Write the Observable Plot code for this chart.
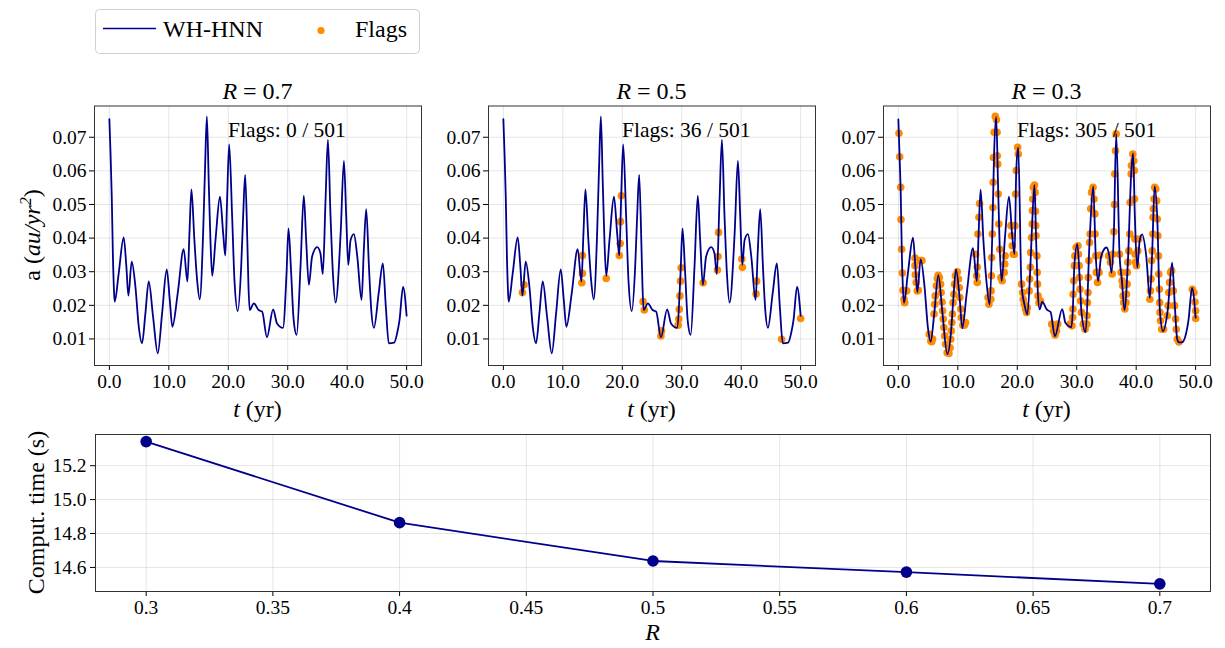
<!DOCTYPE html>
<html><head><meta charset="utf-8">
<script src="https://cdn.jsdelivr.net/npm/d3@7"></script>
<script src="https://cdn.jsdelivr.net/npm/@observablehq/plot@0.6"></script>
<style>
body{margin:0;background:#fff;}
#fig{position:relative;width:1225px;height:648px;overflow:hidden;background:#fff;}
#fig > svg, #fig > div{position:absolute;}
#fig svg text{font-family:'Liberation Serif','DejaVu Serif',serif !important;}
</style></head><body><div id="fig"></div>
<script>
// ---- data ----
// WH-HNN trajectory (panels R = 0.7 and R = 0.5)
const tA = [0,0.2,0.4,0.6,0.8,0.9,1.57,2.41,2.86,3.2,3.76,4.38,4.94,5.5,6.06,6.62,7.35,8.14,8.87,9.65,10.16,10.6,11.5,12.5,13.13,13.47,13.8,14.3,14.76,15.2,15.77,16.1,16.4,16.72,17.0,17.3,17.85,18.6,19.14,19.5,19.8,20.15,20.65,21.04,21.6,22.17,22.5,22.84,23.2,23.4,23.6,24.3,25.1,25.7,26.5,27.55,28.2,29.2,29.8,30.13,30.58,31.0,31.5,32.15,32.7,33.1,33.56,34.1,34.96,35.5,35.9,36.36,36.76,37.2,37.6,38.05,38.9,39.45,39.84,40.18,40.57,41.13,41.7,42.42,42.8,43.2,43.66,44.05,44.5,45.3,46.0,46.5,47.0,47.9,48.4,48.8,49.4,50.0];
const aA = [0.0754,0.0650,0.0525,0.0345,0.0235,0.0211,0.0295,0.0402,0.0315,0.0229,0.0330,0.0256,0.0137,0.0087,0.0176,0.0271,0.0166,0.0057,0.0176,0.0307,0.0216,0.0136,0.0236,0.0367,0.0271,0.0414,0.0545,0.0394,0.0275,0.0218,0.0414,0.0613,0.0762,0.0563,0.0394,0.0288,0.0394,0.0523,0.0414,0.0348,0.0513,0.0679,0.0464,0.0275,0.0183,0.0315,0.0464,0.0588,0.0394,0.0256,0.0186,0.0206,0.0186,0.0181,0.0105,0.0188,0.0146,0.0133,0.0295,0.0429,0.0295,0.0156,0.0112,0.0315,0.0526,0.0394,0.0261,0.0345,0.0373,0.0355,0.0293,0.0513,0.0692,0.0464,0.0295,0.0208,0.0414,0.0630,0.0464,0.0320,0.0394,0.0412,0.0345,0.0216,0.0365,0.0486,0.0315,0.0186,0.0133,0.0236,0.0325,0.0196,0.0087,0.0089,0.0117,0.0156,0.0255,0.0169];
// WH-HNN trajectory (panel R = 0.3)
const tC = [0,0.2,0.4,0.6,0.8,0.95,1.6,2.46,2.86,3.19,3.75,4.4,4.95,5.43,6.06,6.72,7.4,8.23,8.9,9.2,9.7,10.3,10.75,11.5,12.55,13.2,13.5,13.83,14.3,14.8,15.35,15.8,16.1,16.46,16.75,17.05,17.37,17.9,18.6,19.15,19.55,19.83,20.16,20.7,21.2,21.7,22.2,22.5,22.9,23.15,23.4,23.75,24.2,25.0,25.6,26.33,27.56,28.1,29.1,29.35,29.6,30.1,30.5,30.8,31.5,32.15,32.77,33.2,33.6,34.1,35.0,35.5,35.85,36.25,36.64,37.2,37.6,38.03,38.6,39.2,39.49,39.75,40.17,40.6,41.0,41.7,42.3,42.7,43.1,43.55,44.0,44.5,45.3,46.05,46.5,46.9,47.2,47.7,48.4,48.8,49.4,50.0];
const aC = [0.0753,0.0645,0.0530,0.0340,0.0240,0.0208,0.0295,0.0401,0.0315,0.0239,0.0337,0.0256,0.0137,0.0092,0.0180,0.0290,0.0180,0.0055,0.0130,0.0208,0.0307,0.0223,0.0132,0.0236,0.0370,0.0272,0.0414,0.0544,0.0394,0.0275,0.0202,0.0412,0.0650,0.0760,0.0570,0.0370,0.0272,0.0394,0.0523,0.0407,0.0352,0.0601,0.0670,0.0263,0.0203,0.0173,0.0313,0.0442,0.0558,0.0407,0.0263,0.0188,0.0210,0.0187,0.0180,0.0108,0.0189,0.0148,0.0135,0.0190,0.0318,0.0382,0.0280,0.0179,0.0120,0.0387,0.0554,0.0347,0.0272,0.0345,0.0372,0.0345,0.0297,0.0419,0.0710,0.0352,0.0273,0.0186,0.0328,0.0605,0.0652,0.0480,0.0312,0.0394,0.0411,0.0345,0.0222,0.0362,0.0554,0.0457,0.0180,0.0123,0.0185,0.0327,0.0199,0.0099,0.0090,0.0090,0.0117,0.0156,0.0252,0.0163];
// flagged steps, R = 0.5
const flagT5 = [3.2,3.48,13.2,13.3,13.3,17.3,19.5,19.65,19.7,19.85,23.5,23.7,26.5,26.6,29.4,29.5,29.6,29.7,29.8,29.9,33.6,36.0,36.1,36.2,40.1,40.2,42.5,42.6,46.8,50.0];
const flagA5 = [0.0238,0.0261,0.0267,0.0295,0.0348,0.0280,0.0348,0.0384,0.0449,0.0526,0.0211,0.0186,0.0109,0.0124,0.0141,0.0159,0.0188,0.0228,0.0272,0.0312,0.0267,0.0305,0.0345,0.0417,0.0338,0.0313,0.0234,0.0272,0.0099,0.0161];
// flagged steps, R = 0.3
const flagT3 = [0.1,0.22,0.39,0.44,0.55,0.67,0.78,0.95,1.06,1.39,
 2.8,2.8,2.85,3.0,3.19,3.36,3.64,3.97,
 5.2,5.45,5.6,5.75,6.0,6.1,6.2,6.4,6.55,6.7,6.9,7.1,7.2,7.35,7.45,7.55,7.65,7.8,7.95,8.2,8.5,8.7,8.8,8.9,9.0,9.1,9.2,9.35,9.45,9.6,9.9,10.1,10.25,10.35,10.5,10.6,10.85,11.1,11.3,
 13.0,13.16,13.27,13.27,13.38,13.55,13.66,
 15.07,15.23,15.55,15.6,15.65,15.7,15.8,15.9,15.95,16.0,16.1,16.3,16.5,16.6,16.63,16.7,16.8,16.9,17.05,17.25,17.45,17.8,17.9,17.95,
 18.93,19.04,19.16,19.33,19.5,19.6,19.72,19.83,20.06,20.17,
 20.73,20.9,21.0,21.18,21.4,21.57,21.69,
 22.0,22.1,22.2,22.25,22.4,22.5,22.55,22.6,22.7,22.9,23.0,23.05,23.1,23.15,23.3,23.35,23.4,23.5,23.65,23.9,
 25.8,26.1,26.35,26.6,26.8,
 28.9,29.2,29.3,29.35,29.4,29.5,29.6,29.7,29.9,30.2,30.3,30.4,30.45,30.55,30.65,30.8,31.1,31.4,31.7,31.75,31.8,31.9,31.95,32.05,32.15,32.25,32.35,32.5,32.75,32.9,33.05,33.1,33.2,33.3,33.5,33.75,33.85,
 35.39,35.67,35.96,36.07,36.24,36.35,36.4,36.52,36.63,
 37.19,37.47,37.64,37.75,37.8,37.9,38.09,38.3,38.37,38.48,38.5,38.6,38.76,38.93,38.98,39.16,39.2,39.44,39.6,39.68,39.72,39.78,39.82,39.89,40.06,40.28,40.45,
 42.3,42.4,42.5,42.6,42.7,42.8,42.85,42.9,43.0,43.1,43.3,43.45,43.55,43.65,43.75,43.8,43.9,43.95,44.0,44.1,44.3,44.6,
 45.22,45.39,45.5,45.62,45.79,45.96,46.24,46.46,46.63,46.74,46.91,47.19,
 49.44,49.72,49.89,50.0,50.0];
const flagA3 = [0.0712,0.0642,0.0551,0.0455,0.0367,0.0296,0.0245,0.0218,0.0208,0.0243,
 0.0341,0.0318,0.0291,0.0268,0.0243,0.0245,0.0333,0.0333,
 0.0114,0.0094,0.0092,0.0100,0.0174,0.0203,0.0228,0.0258,0.0280,0.0289,0.0283,0.0263,0.0238,0.0210,0.0184,0.0159,0.0134,0.0109,0.0084,0.0059,0.0057,0.0074,0.0099,0.0124,0.0149,0.0174,0.0208,0.0233,0.0263,0.0288,0.0300,0.0278,0.0253,0.0223,0.0189,0.0164,0.0141,0.0141,0.0149,
 0.0352,0.0288,0.0313,0.0268,0.0412,0.0462,0.0503,
 0.0223,0.0203,0.0218,0.0243,0.0288,0.0342,0.0412,0.0491,0.0566,0.0640,0.0715,0.0762,0.0752,0.0715,0.0645,0.0620,0.0531,0.0442,0.0367,0.0283,0.0273,0.0298,0.0323,0.0347,
 0.0437,0.0407,0.0377,0.0352,0.0352,0.0437,0.0531,0.0601,0.0670,0.0650,
 0.0263,0.0238,0.0218,0.0203,0.0189,0.0179,0.0193,
 0.0243,0.0278,0.0313,0.0357,0.0402,0.0442,0.0482,0.0516,0.0551,0.0558,0.0536,0.0480,0.0437,0.0407,0.0347,0.0298,0.0263,0.0228,0.0208,0.0213,
 0.0144,0.0124,0.0112,0.0124,0.0144,
 0.0144,0.0139,0.0164,0.0189,0.0233,0.0273,0.0318,0.0347,0.0372,0.0377,0.0352,0.0318,0.0283,0.0248,0.0213,0.0179,0.0144,0.0129,0.0144,0.0169,0.0208,0.0238,0.0283,0.0333,0.0387,0.0412,0.0487,0.0536,0.0551,0.0516,0.0472,0.0412,0.0347,0.0298,0.0268,0.0298,0.0349,
 0.0347,0.0328,0.0293,0.0352,0.0419,0.0500,0.0591,0.0660,0.0710,
 0.0352,0.0298,0.0273,0.0258,0.0228,0.0208,0.0189,0.0208,0.0233,0.0263,0.0298,0.0328,0.0362,0.0412,0.0506,0.0591,0.0616,0.0650,0.0630,0.0601,0.0516,0.0397,0.0352,0.0328,0.0318,0.0362,0.0397,
 0.0218,0.0243,0.0278,0.0333,0.0362,0.0412,0.0462,0.0487,0.0516,0.0551,0.0546,0.0511,0.0457,0.0407,0.0347,0.0293,0.0248,0.0208,0.0179,0.0154,0.0129,0.0129,
 0.0169,0.0199,0.0238,0.0268,0.0298,0.0303,0.0243,0.0199,0.0159,0.0129,0.0099,0.0091,
 0.0248,0.0238,0.0210,0.0184,0.0161];
// computation time vs R
const rValues = [0.3,0.4,0.5,0.6,0.7];
const timeValues = [15.342,14.864,14.638,14.572,14.503];
// ticks & labels
const tTicks = [0,10,20,30,40,50];
const aTicks = [0.01,0.02,0.03,0.04,0.05,0.06,0.07];
const rTicks = [0.3,0.35,0.4,0.45,0.5,0.55,0.6,0.65,0.7];
const timeTicks = [14.6,14.8,15.0,15.2];
const panelR = ["0.7","0.5","0.3"];
const flagCounts = [0,36,305];
const flagTotal = 501;

// ---- drawing ----
const NAVY = "#00008b", ORANGE = "#ff8c00", FONT = "'Liberation Serif', 'DejaVu Serif', serif";
const fig = document.getElementById("fig");
const toRows = (ts, as) => ts.map((t, i) => ({t, a: as[i]}));
function styleTicks(svg) {
  svg.querySelectorAll("text").forEach(t => {
    t.setAttribute("font-family", FONT);
    t.style.fontSize = "19.5px"; t.setAttribute("fill", "#000");
  });
  svg.style.overflow = "visible";
}

const panels = [
  {left: 0, width: 430, mL: 94, mR: 9, line: toRows(tA, aA), flags: []},
  {left: 430, width: 405, mL: 58, mR: 20, line: toRows(tA, aA), flags: toRows(flagT5, flagA5)},
  {left: 835, width: 390, mL: 48, mR: 15, line: toRows(tC, aC), flags: toRows(flagT3, flagA3)}
];
panels.forEach(p => {
  const svg = Plot.plot({
    width: p.width, height: 370,
    marginLeft: p.mL, marginRight: p.mR, marginTop: 45.5, marginBottom: 65,
    style: {fontFamily: FONT, fontSize: "19.5px", color: "#000", background: "transparent", overflow: "visible"},
    x: {domain: [-2.5, 52.5], ticks: tTicks, tickFormat: d3.format(".1f"), grid: true, label: null, tickSize: 5, tickPadding: 4},
    y: {domain: [0.0021, 0.0793], ticks: aTicks, tickFormat: d3.format(".2f"), grid: true, label: null, tickSize: 5, tickPadding: 3},
    marks: [
      Plot.dot(p.flags, {x: "t", y: "a", r: 3.8, fill: ORANGE, stroke: "none"}),
      Plot.line(p.line, {x: "t", y: "a", curve: "monotone-x", stroke: NAVY, strokeWidth: 1.8}),
      Plot.frame({stroke: "#333"})
    ]
  });
  styleTicks(svg);
  svg.style.left = p.left + "px"; svg.style.top = "60px";
  fig.appendChild(svg);
});

const comp = rValues.map((r, i) => ({r, time: timeValues[i]}));
const bottom = Plot.plot({
  width: 1225, height: 218, marginLeft: 95, marginRight: 15, marginTop: 4, marginBottom: 57,
  style: {fontFamily: FONT, fontSize: "19.5px", color: "#000", background: "transparent", overflow: "visible"},
  x: {domain: [0.28, 0.72], ticks: rTicks, tickFormat: d => String(+d.toFixed(2)), grid: true, label: null, tickSize: 5, tickPadding: 4},
  y: {domain: [14.458, 15.384], ticks: timeTicks, tickFormat: d3.format(".1f"), grid: true, label: null, tickSize: 5, tickPadding: 4},
  marks: [
    Plot.line(comp, {x: "r", y: "time", stroke: NAVY, strokeWidth: 1.8}),
    Plot.dot(comp, {x: "r", y: "time", r: 5.8, fill: NAVY, stroke: "none"}),
    Plot.frame({stroke: "#333"})
  ]
});
styleTicks(bottom);
bottom.style.left = "0px"; bottom.style.top = "430px";
fig.appendChild(bottom);

// ---- text overlay: titles, axis labels, legend ----
const ov = d3.select(fig).append("svg")
  .attr("width", 1225).attr("height", 648)
  .style("left", "0px").style("top", "0px").style("pointer-events", "none")
  .style("font-family", FONT).attr("fill", "#000");

const frames = [[94, 421], [488, 815], [883, 1210]];
frames.forEach(([x0, x1], i) => {
  const cx = (x0 + x1) / 2;
  const title = ov.append("text").attr("x", cx).attr("y", 99).attr("text-anchor", "middle").attr("font-size", 24);
  title.append("tspan").attr("font-style", "italic").text("R");
  title.append("tspan").text(" = " + panelR[i]);
  ov.append("text").attr("x", x0 + 0.41 * (x1 - x0)).attr("y", 137).attr("font-size", 21.5)
    .text(`Flags: ${flagCounts[i]} / ${flagTotal}`);
  const xl = ov.append("text").attr("x", cx).attr("y", 417).attr("text-anchor", "middle").attr("font-size", 24);
  xl.append("tspan").attr("font-style", "italic").text("t");
  xl.append("tspan").text(" (yr)");
});

const yl = ov.append("text").attr("transform", "translate(40,235) rotate(-90)").attr("text-anchor", "middle").attr("font-size", 24);
yl.append("tspan").text("a (");
yl.append("tspan").attr("font-style", "italic").text("au/yr");
yl.append("tspan").attr("font-style", "italic").attr("font-size", 16).attr("dy", -9).text("2");
yl.append("tspan").attr("dy", 9).text(")");

ov.append("text").attr("transform", "translate(44,512.5) rotate(-90)").attr("text-anchor", "middle").attr("font-size", 24)
  .text("Comput. time (s)");
ov.append("text").attr("x", 652.5).attr("y", 640).attr("text-anchor", "middle").attr("font-size", 24)
  .attr("font-style", "italic").text("R");

// legend
const lg = ov.append("g");
lg.append("rect").attr("x", 95.5).attr("y", 9.5).attr("width", 324).attr("height", 44).attr("rx", 4)
  .attr("fill", "#fff").attr("fill-opacity", 0.8).attr("stroke", "#d0d0d0");
lg.append("line").attr("x1", 103).attr("x2", 156).attr("y1", 28.5).attr("y2", 28.5).attr("stroke", NAVY).attr("stroke-width", 1.6);
lg.append("text").attr("x", 163).attr("y", 37).attr("font-size", 24).text("WH-HNN");
lg.append("circle").attr("cx", 321).attr("cy", 30.5).attr("r", 3.6).attr("fill", ORANGE);
lg.append("text").attr("x", 355).attr("y", 37).attr("font-size", 24).text("Flags");
</script></body></html>
